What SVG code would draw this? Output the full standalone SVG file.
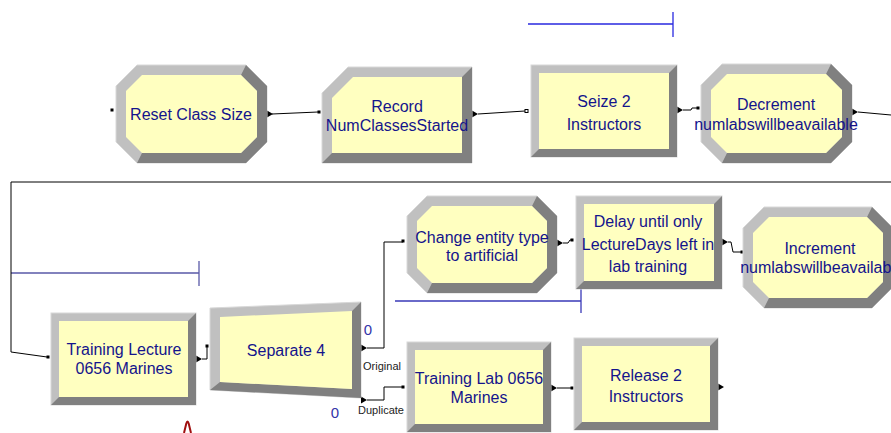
<svg xmlns="http://www.w3.org/2000/svg" xmlns:xlink="http://www.w3.org/1999/xlink" width="891" height="433" viewBox="0 0 891 433">
<style>
.lt{fill:#c0c0c0;stroke:#d8d8d8;stroke-width:1}
.dk{fill:#808080}
.face{fill:#ffffc0}
.t{font-family:"Liberation Sans",Arial,sans-serif;font-size:16px;fill:#14148c;text-anchor:middle}
.lbl{font-family:"Liberation Sans",Arial,sans-serif;font-size:11px;fill:#222;text-anchor:middle}
.cnt{font-family:"Liberation Sans",Arial,sans-serif;font-size:15px;fill:#3434a8;text-anchor:middle}
.con{fill:none;stroke:#000;stroke-width:1}
.bl{fill:none;stroke-width:1.3}
</style>
<defs>
<path id="arr" d="M0,-3.5 L6,0 L0,3.5Z" fill="#000"/>
<rect id="dot" x="-1.5" y="-1.5" width="3" height="3" fill="#000"/>
</defs>
<rect width="891" height="433" fill="#fff"/>

<g id="annotations">
<path class="bl" stroke="#2a2ae0" d="M528,24H673M673,12V37"/>
<path class="bl" stroke="#5a5aa8" d="M11,273H199M199,261V286"/>
<path class="bl" stroke="#3a3ab8" d="M395,301H581M581,289V313"/>
<path d="M184,433 L186.3,423.5 Q187.5,419.5 188.7,423.5 L191,433" fill="none" stroke="#a01010" stroke-width="2"/>
</g>

<g id="connectors">
<path class="con" d="M272,114 L318,112"/>
<path class="con" d="M478,114 L525,111"/>
<rect x="525" y="109.5" width="3" height="3" fill="#fff" stroke="#000" stroke-width="1"/>
<path class="con" d="M683,110 L691,110 L692,108 L697,108"/>
<path class="con" d="M858,112 L891,115"/>
<path class="con" d="M891,182 H11 V352 L47,357" stroke="#222"/>
<path class="con" d="M202,359 H207 V347"/>
<path class="con" d="M367,348 H384 V242 H403"/>
<path class="con" d="M367,400 H384 V387 H403"/>
<path class="con" d="M563,243 H568 L570,240 H572"/>
<path class="con" d="M728,242 H731 L733,252 H742"/>
<path class="con" d="M557,388 H572"/>
<use xlink:href="#dot" x="112" y="110"/>
<use xlink:href="#arr" x="267" y="114"/>
<use xlink:href="#dot" x="319" y="112"/>
<use xlink:href="#arr" x="472" y="114"/>
<use xlink:href="#arr" x="677" y="110"/>
<use xlink:href="#dot" x="698" y="108"/>
<use xlink:href="#arr" x="852" y="112"/>
<use xlink:href="#dot" x="48" y="357"/>
<use xlink:href="#arr" x="196" y="359"/>
<use xlink:href="#dot" x="207" y="346"/>
<use xlink:href="#arr" x="361" y="348"/>
<use xlink:href="#arr" x="361" y="400"/>
<use xlink:href="#dot" x="403" y="241"/>
<use xlink:href="#dot" x="403" y="387"/>
<use xlink:href="#arr" x="557" y="243"/>
<use xlink:href="#dot" x="572" y="240"/>
<use xlink:href="#arr" x="722" y="242"/>
<use xlink:href="#dot" x="742" y="252"/>
<use xlink:href="#arr" x="551" y="388"/>
<use xlink:href="#dot" x="572" y="388"/>
<use xlink:href="#arr" x="718" y="387"/>
<text class="cnt" x="368" y="335">0</text>
<text class="lbl" x="382" y="370">Original</text>
<text class="cnt" x="335" y="418">0</text>
<text class="lbl" x="381" y="414">Duplicate</text>
</g>

<g id="reset">
<polygon class="lt" points="137,65 246,65 267,86 267,142 246,163 137,163 116,142 116,86"/>
<polygon class="dk" points="246,65 267,86 267,142 246,163 137,163 142,153 241,153 257,137 257,91 241,75"/>
<polygon class="face" points="142,75 241,75 257,91 257,137 241,153 142,153 126,137 126,91"/>
<text class="t" x="191" y="120">Reset Class Size</text>
</g>

<g id="record">
<polygon class="lt" points="348,67 472,67 472,163 322,163 322,93"/>
<polygon class="dk" points="472,67 472,163 322,163 332,153 462,153 462,77"/>
<polygon class="face" points="353,77 462,77 462,153 332,153 332,98"/>
<text class="t" x="397" y="112">Record</text>
<text class="t" x="397" y="131">NumClassesStarted</text>
</g>

<g id="seize">
<rect class="lt" x="531" y="65" width="146" height="92"/>
<polygon class="dk" points="677,65 677,157 531,157 539,149 669,149 669,73"/>
<rect class="face" x="539" y="73" width="130" height="76"/>
<text class="t" x="604" y="107">Seize 2</text>
<text class="t" x="604" y="130">Instructors</text>
</g>

<g id="decrement">
<polygon class="lt" points="722,64 831,64 852,85 852,142 831,163 722,163 701,142 701,85"/>
<polygon class="dk" points="831,64 852,85 852,142 831,163 722,163 727,153 826,153 842,137 842,90 826,74"/>
<polygon class="face" points="727,74 826,74 842,90 842,137 826,153 727,153 711,137 711,90"/>
<text class="t" x="776" y="110">Decrement</text>
<text class="t" x="776" y="130" font-size="15.5">numlabswillbeavailable</text>
</g>

<g id="lecture">
<rect class="lt" x="51" y="313" width="145" height="92"/>
<polygon class="dk" points="196,313 196,405 51,405 59,397 188,397 188,321"/>
<rect class="face" x="59" y="321" width="129" height="76"/>
<text class="t" x="124" y="355">Training Lecture</text>
<text class="t" x="124" y="374">0656 Marines</text>
</g>

<g id="separate">
<polygon class="lt" points="210,308 361,302 361,398 210,390"/>
<polygon class="dk" points="361,302 361,398 210,390 220,382 352,389 352,311"/>
<polygon class="face" points="220,317 352,311 352,389 220,382"/>
<text class="t" x="286" y="356">Separate 4</text>
</g>

<g id="change">
<polygon class="lt" points="427,196 537,196 557,216 557,273 537,293 427,293 407,273 407,216"/>
<polygon class="dk" points="537,196 557,216 557,273 537,293 427,293 432,283 532,283 547,268 547,221 532,206"/>
<polygon class="face" points="432,206 532,206 547,221 547,268 532,283 432,283 417,268 417,221"/>
<text class="t" x="482" y="243">Change entity type</text>
<text class="t" x="482" y="261">to artificial</text>
</g>

<g id="delay">
<rect class="lt" x="576" y="196" width="146" height="93"/>
<polygon class="dk" points="722,196 722,289 576,289 584,281 714,281 714,204"/>
<rect class="face" x="584" y="204" width="130" height="77"/>
<text class="t" x="648" y="227">Delay until only</text>
<text class="t" x="648" y="250">LectureDays left in</text>
<text class="t" x="648" y="272">lab training</text>
</g>

<g id="increment">
<polygon class="lt" points="764,207 872,207 893,228 893,287 872,308 764,308 743,287 743,228"/>
<polygon class="dk" points="872,207 893,228 893,287 872,308 764,308 769,298 867,298 883,282 883,233 867,217"/>
<polygon class="face" points="769,217 867,217 883,233 883,282 867,298 769,298 753,282 753,233"/>
<text class="t" x="820" y="254">Increment</text>
<text class="t" x="822" y="273" font-size="15.5">numlabswillbeavailable</text>
</g>

<g id="lab">
<rect class="lt" x="407" y="342" width="144" height="90"/>
<polygon class="dk" points="551,342 551,432 407,432 415,424 543,424 543,350"/>
<rect class="face" x="415" y="350" width="128" height="74"/>
<text class="t" x="479" y="384">Training Lab 0656</text>
<text class="t" x="479" y="403">Marines</text>
</g>

<g id="release">
<rect class="lt" x="574" y="338" width="144" height="92"/>
<polygon class="dk" points="718,338 718,430 574,430 582,422 710,422 710,346"/>
<rect class="face" x="582" y="346" width="128" height="76"/>
<text class="t" x="646" y="381">Release 2</text>
<text class="t" x="646" y="402">Instructors</text>
</g>
</svg>
